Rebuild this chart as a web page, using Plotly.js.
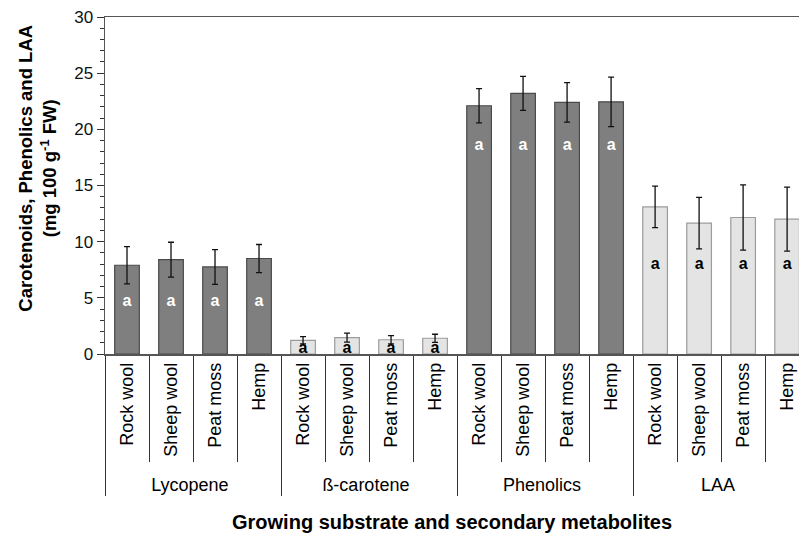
<!DOCTYPE html>
<html>
<head>
<meta charset="utf-8">
<script src="https://cdn.plot.ly/plotly-3.0.1.min.js"></script>
<style>html,body{margin:0;padding:0;background:#fff;}#chart{width:799px;height:536px;}</style>
</head>
<body>
<div id="chart"></div>
<script>
// ---- data ----
const metabolites = ["Lycopene", "ß-carotene", "Phenolics", "LAA"];
const substrates = ["Rock wool", "Sheep wool", "Peat moss", "Hemp"];
const lycopene   = [7.9, 8.4, 7.75, 8.5];
const lycopeneSD = [1.65, 1.55, 1.55, 1.25];
const betaCarotene   = [1.22, 1.45, 1.27, 1.4];
const betaCaroteneSD = [0.32, 0.4, 0.36, 0.36];
const phenolics   = [22.1, 23.2, 22.4, 22.45];
const phenolicsSD = [1.52, 1.52, 1.75, 2.2];
const laa   = [13.1, 11.65, 12.15, 12.0];
const laaSD = [1.85, 2.3, 2.9, 2.85];
const letters = ["a", "a", "a", "a"];

// ---- build ----
const seriesList = [
  {name: metabolites[0], v: lycopene, e: lycopeneSD, dark: true},
  {name: metabolites[1], v: betaCarotene, e: betaCaroteneSD, dark: false},
  {name: metabolites[2], v: phenolics, e: phenolicsSD, dark: true},
  {name: metabolites[3], v: laa, e: laaSD, dark: false}
];
const letterY = {"Lycopene": 4.6, "ß-carotene": 0.45, "Phenolics": 18.5, "LAA": 7.9};

const traces = [];
seriesList.forEach(s => {
  const xg = substrates.map(() => s.name);
  traces.push({
    type: "bar",
    x: [xg, substrates],
    y: s.v,
    marker: {color: s.dark ? "#7f7f7f" : "#e4e4e4",
             line: {color: s.dark ? "#4a4a4a" : "#9c9c9c", width: 1.2}},
    error_y: {type: "data", array: s.e, visible: true, color: "#111", thickness: 1.3, width: 3},
    width: 0.56,
    showlegend: false,
    hoverinfo: "y"
  });
  traces.push({
    type: "scatter", mode: "text",
    x: [xg, substrates],
    y: substrates.map(() => letterY[s.name]),
    text: letters,
    textfont: {family: "Liberation Sans, Arial, sans-serif", size: 16, color: s.dark ? "#ffffff" : "#000000", weight: "bold"},
    showlegend: false, hoverinfo: "skip"
  });
});

const layout = {
  width: 799, height: 536,
  margin: {l: 105, r: 0, t: 17, b: 182},
  paper_bgcolor: "#fff", plot_bgcolor: "#fff",
  font: {family: "Liberation Sans, Arial, sans-serif", size: 18, color: "#000"},
  barmode: "group",
  xaxis: {
    type: "multicategory",
    range: [-0.5, 15.27],
    showline: true, linecolor: "#555", linewidth: 1.5, mirror: true,
    ticks: "outside", ticklen: 106, tickcolor: "#333", tickwidth: 1,
    tickangle: -90,
    tickfont: {size: 18},
    showdividers: true, dividercolor: "#333", dividerwidth: 1,
    showgrid: false, zeroline: false
  },
  yaxis: {
    range: [0, 30], dtick: 5,
    showline: true, linecolor: "#555", linewidth: 1.5,
    ticks: "outside", ticklen: 7, tickcolor: "#333", tickwidth: 1,
    minor: {dtick: 1, ticks: "outside", ticklen: 4, tickcolor: "#333"},
    tickfont: {size: 17, color: "#111"},
    showgrid: false, zeroline: false
  },
  annotations: [{
    text: "<b>Carotenoids, Phenolics and LAA<br>(mg 100 g<sup>-1</sup> FW)</b>",
    xref: "paper", yref: "paper", x: -0.0965, xanchor: "center", y: 0.55, yanchor: "middle",
    textangle: -90, showarrow: false, font: {size: 18.5}
  }, {
    text: "<b>Growing substrate and secondary metabolites</b>",
    xref: "paper", yref: "paper", x: 0.5, y: -0.4985, yanchor: "middle",
    showarrow: false, font: {size: 20}
  }]
};

Plotly.newPlot("chart", traces, layout, {displayModeBar: false, staticPlot: true});
</script>
</body>
</html>
